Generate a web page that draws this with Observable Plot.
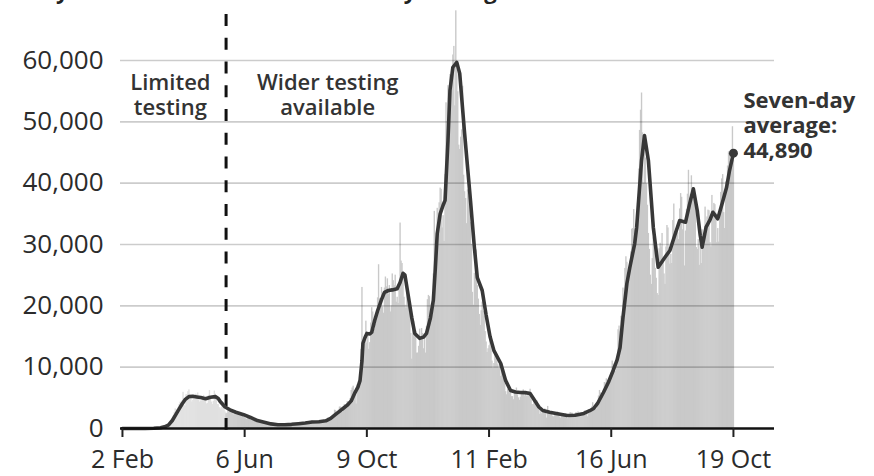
<!DOCTYPE html>
<html><head><meta charset="utf-8">
<script src="https://cdn.jsdelivr.net/npm/d3@7"></script>
<script src="https://cdn.jsdelivr.net/npm/@observablehq/plot@0.6"></script>
<style>
body{margin:0;background:#fff;font-family:"Open Sans",sans-serif;}
#wrap{position:relative;width:874px;height:476px;overflow:hidden;background:#fff;}
#title{position:absolute;left:13px;top:-25px;font-size:22px;line-height:30px;font-weight:700;color:#222;white-space:nowrap;}
#chart{position:absolute;left:0;top:0;}
</style></head><body>
<div id="wrap"><div id="chart"></div><div id="title">Daily confirmed cases and seven-day average in the UK</div></div>
<script>
// Daily reported cases, in thousands, one array per month (first array starts 2 Feb 2020)
const feb20 = [0,0,0,0,0,0,0,0,0,0,0,0,0,0,0,0,0,0,0,0,0,0,0,0,0.01,0.01,0.01,0.01];
const mar20 = [0.01,0.01,0.02,0.03,0.05,0.05,0.06,0.07,0.06,0.05,0.08,0.13,0.2,0.34,0.2,0.4,0.4,0.68,0.64,0.71,1.0,0.9,1.1,1.4,2.1,2.6,3.2,3.0,3.1,3.4,3.9];
const apr20 = [4.3,4.2,4.5,5.9,3.8,3.6,5.5,5.5,6.0,6.3,5.3,5.0,4.3,4.6,5.3,5.0,5.6,5.5,5.8,4.7,4.3,4.5,4.5,4.7,5.4,4.9,4.5,4.0,4.1,5.4];
const may20 = [6.2,4.8,4.3,3.9,4.4,6.1,5.6,4.6,3.9,3.9,3.4,3.2,3.4,3.6,3.5,3.1,2.7,2.4,2.5,3.0,2.6,3.0,3.0,2.6,2.4,2.2,2.4,2.3,2.6,2.4,2.2];
const jun20 = [2.1,2.2,2.1,2.0,1.9,1.8,1.6,1.5,1.7,1.9,1.7,1.6,1.5,1.5,1.2,1.4,1.2,1.3,1.3,1.2,1.1,1.0,0.9,1.1,1.0,0.9,0.8,0.9,0.8,0.7];
const jul20 = [0.6,0.8,0.6,0.5,0.6,0.6,0.6,0.6,0.6,0.5,0.8,0.6,0.5,0.6,0.5,0.6,0.8,0.8,0.7,0.6,0.4,0.6,0.7,0.8,0.8,0.7,0.7,0.6,0.8,0.8,0.9];
const aug20 = [0.7,0.7,0.9,0.8,0.9,0.9,1.0,1.0,1.1,1.0,1.0,0.8,1.0,1.2,1.1,1.0,0.9,0.8,1.2,1.2,1.0,1.3,1.0,0.9,1.0,1.2,1.3,1.3,1.1,1.7,1.4];
const sep20 = [1.3,1.3,1.7,1.8,1.8,2.99,2.9,2.4,2.7,3.0,3.5,3.5,3.3,2.6,3.1,3.9,3.4,3.4,4.4,3.9,4.4,4.9,6.2,6.6,6.9,6.0,5.7,4.0,7.1,7.1];
const oct20 = [6.9,6.9,12.9,23.0,12.6,14.5,14.2,17.5,13.9,15.2,12.9,14.0,17.2,19.7,19.0,15.7,16.2,17.0,18.8,21.3,26.7,21.2,20.5,23.0,19.8,18.8,22.9,24.7,23.1,24.4,21.9];
const nov20 = [23.3,19.0,20.0,25.2,24.1,23.3,25.0,20.6,21.4,20.4,23.0,33.5,27.3,26.9,25.0,21.4,20.1,19.6,22.9,20.3,19.9,18.7,15.5,11.3,18.2,17.5,16.0,15.9,12.3,12.3];
const dec20 = [13.4,16.2,14.9,16.3,15.5,13.0,14.7,12.3,16.6,21.0,21.7,21.5,18.4,20.3,18.5,25.2,35.4,28.5,27.1,35.9,33.4,36.8,39.2,39.0,32.7,34.7,30.5,41.4,53.1,50.0,55.9];
const jan21 = [53.3,57.7,55.0,58.8,60.9,62.3,52.6,68.1,59.9,54.9,46.2,45.5,47.5,48.7,55.8,41.3,38.6,37.5,33.4,38.9,37.9,40.3,33.6,30.0,22.2,20.1,25.3,28.7,29.1,23.3,21.1];
const feb21 = [18.6,16.8,19.2,20.6,19.1,18.3,15.8,14.1,12.4,13.0,13.5,15.1,13.3,11.0,9.8,10.6,12.7,12.1,12.0,10.4,9.8,10.6,8.5,9.9,9.0,8.5,7.4,6.0];
const mar21 = [5.5,6.4,6.0,6.6,6.0,5.2,5.2,4.7,5.8,5.9,6.6,5.5,5.0,4.6,5.1,5.8,5.8,6.3,5.3,5.6,5.3,5.3,5.4,6.0,6.4,4.7,3.9,3.9,4.7,4.0,4.1];
const apr21 = [4.5,3.4,3.4,2.3,2.8,2.4,3.0,2.8,3.2,2.6,1.7,3.6,2.5,2.7,2.6,2.6,2.0,1.9,2.5,2.4,2.4,2.7,2.6,1.9,1.7,2.1,2.1,2.2,2.1,2.4];
const may21 = [1.9,1.6,1.7,1.9,2.6,2.5,2.5,2.0,1.8,2.4,2.6,2.3,2.7,2.2,2.0,1.9,2.4,2.4,2.7,2.9,2.1,2.3,1.9,2.4,2.5,3.2,3.5,4.2,3.4,3.2,3.2];
const jun21 = [3.2,4.3,5.3,6.2,5.8,5.3,5.7,6.0,7.5,7.4,8.1,7.7,7.5,7.6,7.7,9.1,11.0,10.5,10.3,9.3,10.6,11.6,16.1,16.7,15.8,18.3,15.0,22.9,20.5,26.1];
const jul21 = [28.0,27.1,24.9,24.2,27.3,28.8,32.5,32.6,35.7,32.4,31.8,34.5,36.7,42.3,48.6,51.9,54.7,48.2,40.0,46.6,44.1,39.9,36.4,31.8,29.2,25.0,23.5,27.7,31.1,29.6,26.1];
const aug21 = [24.5,22.0,21.7,29.3,30.2,29.6,31.8,27.4,25.2,23.5,29.6,33.1,32.7,29.5,26.8,28.4,26.9,33.9,36.6,32.1,31.9,32.3,31.9,30.8,35.8,38.3,37.7,32.4,33.6,26.5,32.2];
const sep21 = [35.7,38.2,42.1,37.6,38.2,41.2,37.5,39.0,38.0,37.6,29.5,29.2,30.8,26.6,30.6,26.9,32.4,30.1,29.6,36.1,31.6,34.5,35.6,35.5,30.3,29.6,38.0,34.5,36.7,36.5];
const oct21 = [35.1,30.3,32.6,30.4,33.9,38.5,40.7,41.4,35.2,32.6,40.2,38.5,42.8,45.1,44.9,43.4,45.1,49.2,43.7];

const monthStarts = ["2020-02-02","2020-03-01","2020-04-01","2020-05-01","2020-06-01","2020-07-01","2020-08-01","2020-09-01","2020-10-01","2020-11-01","2020-12-01","2021-01-01","2021-02-01","2021-03-01","2021-04-01","2021-05-01","2021-06-01","2021-07-01","2021-08-01","2021-09-01","2021-10-01"];
const monthValues = [feb20,mar20,apr20,may20,jun20,jul20,aug20,sep20,oct20,nov20,dec20,jan21,feb21,mar21,apr21,may21,jun21,jul21,aug21,sep21,oct21];

// Seven-day average
const avgDates = ["2020-02-02","2020-02-25","2020-03-05","2020-03-12","2020-03-16","2020-03-20","2020-03-24","2020-03-28","2020-03-31","2020-04-03","2020-04-06","2020-04-10","2020-04-14","2020-04-18","2020-04-22","2020-04-27","2020-05-02","2020-05-07","2020-05-10","2020-05-12","2020-05-17","2020-05-22","2020-05-28","2020-06-05","2020-06-12","2020-06-19","2020-06-26","2020-07-03","2020-07-10","2020-07-17","2020-07-24","2020-07-31","2020-08-07","2020-08-14","2020-08-21","2020-08-28","2020-09-02","2020-09-07","2020-09-11","2020-09-15","2020-09-19","2020-09-23","2020-09-27","2020-09-30","2020-10-02","2020-10-04","2020-10-05","2020-10-07","2020-10-09","2020-10-12","2020-10-14","2020-10-17","2020-10-20","2020-10-24","2020-10-27","2020-10-31","2020-11-04","2020-11-09","2020-11-12","2020-11-15","2020-11-17","2020-11-20","2020-11-24","2020-11-27","2020-12-02","2020-12-06","2020-12-09","2020-12-13","2020-12-16","2020-12-18","2020-12-20","2020-12-23","2020-12-26","2020-12-28","2020-12-31","2021-01-02","2021-01-05","2021-01-09","2021-01-12","2021-01-17","2021-01-23","2021-01-27","2021-01-30","2021-02-04","2021-02-08","2021-02-12","2021-02-16","2021-02-23","2021-02-28","2021-03-05","2021-03-10","2021-03-15","2021-03-20","2021-03-25","2021-03-30","2021-04-03","2021-04-07","2021-04-14","2021-04-22","2021-05-02","2021-05-10","2021-05-19","2021-05-25","2021-05-29","2021-06-02","2021-06-08","2021-06-13","2021-06-18","2021-06-22","2021-06-25","2021-06-28","2021-07-02","2021-07-05","2021-07-10","2021-07-12","2021-07-17","2021-07-20","2021-07-24","2021-07-29","2021-08-03","2021-08-06","2021-08-10","2021-08-15","2021-08-20","2021-08-25","2021-08-31","2021-09-04","2021-09-08","2021-09-12","2021-09-15","2021-09-17","2021-09-21","2021-09-25","2021-09-28","2021-10-03","2021-10-08","2021-10-12","2021-10-15","2021-10-19"];
const avgCases = [0,5,40,120,280,550,1300,2400,3200,4000,4700,5200,5250,5150,5050,4850,5100,5200,4900,4400,3500,3050,2650,2250,1800,1300,1030,750,600,620,680,780,900,1050,1100,1250,1650,2300,2800,3300,3800,4500,5900,6800,7800,11000,13900,14800,15500,15400,15700,17600,19200,21000,22200,22500,22600,22800,23800,25300,25000,22000,18000,15500,14700,14900,15500,18000,20900,26000,31800,35000,36400,37200,47000,55100,58900,59700,57900,48100,37200,29500,24600,22500,18500,15000,12700,10600,7800,6200,5950,5870,5850,5700,4500,3500,2930,2650,2400,2120,2150,2450,2900,3260,4080,5870,7500,9460,11200,13200,18100,23640,26250,30160,32820,43700,47770,43700,32820,26300,27000,27930,29020,31500,33910,33640,36500,39080,35500,31500,29560,32820,34000,35260,34190,37000,39340,42060,44890];

const xTickDates = ["2020-02-02","2020-06-06","2020-10-09","2021-02-11","2021-06-16","2021-10-19"];
const yTickValues = [0,10000,20000,30000,40000,50000,60000];
const widerTestingDate = "2020-05-18";
const xDomain = ["2020-01-31","2021-11-30"];

const parse = d3.utcParse("%Y-%m-%d");
const daily = monthStarts.flatMap((s, k) => monthValues[k].map((v, i) => ({date: d3.utcDay.offset(parse(s), i), cases: v * 1000})));
const avg = avgDates.map((d, i) => ({date: parse(d), cases: avgCases[i]}));
const last = avg[avg.length - 1];
const wider = parse(widerTestingDate);
const ink = "#2b2b2b";
const barOpts = {x1: "date", x2: d => d3.utcDay.offset(d.date, 1), y: "cases", insetLeft: -0.2, insetRight: -0.2};

const chart = Plot.plot({
  width: 874, height: 476,
  marginLeft: 120, marginRight: 100, marginTop: 60, marginBottom: 48,
  style: {fontFamily: '"Open Sans", sans-serif', color: ink, background: "transparent", overflow: "visible"},
  x: {type: "utc", domain: xDomain.map(parse), axis: null},
  y: {domain: [0, 60000], axis: null},
  marks: [
    Plot.rectY(daily.filter(d => d.date < wider), {...barOpts, fill: "#e0e0e0"}),
    Plot.rectY(daily.filter(d => d.date >= wider), {...barOpts, fill: "#c9c9c9"}),
    Plot.ruleY(yTickValues.filter(v => v > 0), {stroke: "#000", strokeOpacity: 0.2, strokeWidth: 1.6}),
    Plot.ruleX([wider], {y1: 67500, y2: -300, stroke: "#111", strokeWidth: 3, strokeDasharray: "12,11.76"}),
    Plot.line(avg, {x: "date", y: "cases", stroke: "#383838", strokeWidth: 3.6, strokeLinejoin: "round"}),
    Plot.dot([last], {x: "date", y: "cases", r: 4.5, fill: "#383838"}),
    Plot.ruleY([0], {stroke: "#111", strokeWidth: 2.5}),
    Plot.axisX(xTickDates.map(parse), {label: null, tickSize: 9, tickPadding: 13, tickFormat: d3.utcFormat("%-d %b"), fontSize: 25, strokeWidth: 2, stroke: "#222", fill: ink}),
    Plot.axisY(yTickValues, {label: null, tickSize: 0, tickPadding: 17, tickFormat: d3.format(","), fontSize: 26, fill: ink}),
    Plot.text([{date: parse("2020-03-22"), cases: 54400, label: "Limited\ntesting"}], {x: "date", y: "cases", text: "label", fontSize: 22, fontWeight: 600, fill: "#333", lineHeight: 1.14, lineAnchor: "middle"}),
    Plot.text([{date: parse("2020-08-30"), cases: 54400, label: "Wider testing\navailable"}], {x: "date", y: "cases", text: "label", fontSize: 22, fontWeight: 600, fill: "#333", lineHeight: 1.14, lineAnchor: "middle"}),
    Plot.text([last], {x: "date", y: "cases", text: d => `Seven-day\naverage:\n${d3.format(",")(d.cases)}`, dx: 10, dy: -28, textAnchor: "start", lineAnchor: "middle", fontSize: 22, fontWeight: 700, fill: "#333", lineHeight: 1.14})
  ]
});
document.getElementById("chart").append(chart);
</script>
</body></html>
